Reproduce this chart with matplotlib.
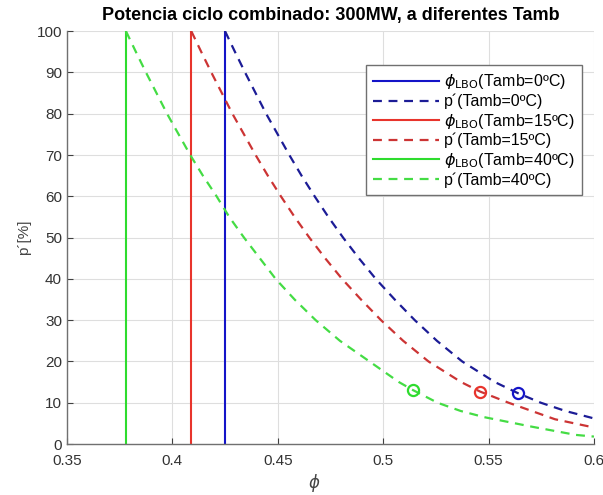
import matplotlib
matplotlib.use('Agg')
import matplotlib.pyplot as plt

plt.rcParams['font.family'] = ['Liberation Sans', 'DejaVu Sans']
plt.rcParams['mathtext.fontset'] = 'dejavusans'

# phi_LBO for each ambient temperature
phi_lbo = [0.425, 0.409, 0.378]
temps = ['0', '15', '40']

# p' curves
phi_0 = [0.425, 0.4297, 0.4345, 0.4395, 0.4445, 0.450, 0.4555, 0.4613, 0.4675, 0.474, 0.481,
         0.4885, 0.4965, 0.5055, 0.515, 0.5255, 0.5375, 0.553, 0.564, 0.5748, 0.5865, 0.600]
p_0 = [100, 95, 90, 85, 80, 75, 70, 65, 60, 55, 50,
       45, 40, 35, 30, 25, 20, 15, 12.3, 10, 8, 6.2]

phi_15 = [0.409, 0.4137, 0.4185, 0.4235, 0.4285, 0.434, 0.4395, 0.4453, 0.4515, 0.458, 0.465,
          0.4725, 0.4805, 0.4895, 0.499, 0.5095, 0.5215, 0.537, 0.546, 0.5595, 0.5705, 0.5815, 0.600]
p_15 = [100, 95, 90, 85, 80, 75, 70, 65, 60, 55, 50,
        45, 40, 35, 30, 25, 20, 15, 12.7, 10, 8, 6, 4.0]

phi_40 = [0.378, 0.3827, 0.3875, 0.3925, 0.3975, 0.403, 0.4085, 0.4145, 0.421, 0.427, 0.434,
          0.4415, 0.449, 0.458, 0.468, 0.4795, 0.4935, 0.5075, 0.514, 0.5258, 0.5368, 0.548, 0.5705, 0.5915, 0.600]
p_40 = [100, 95, 90, 85, 80, 75, 70, 65, 60, 55, 50,
        45, 40, 35, 30, 25, 20, 15, 13.1, 10, 8, 6.5, 4.2, 2.2, 1.8]

# operating points (circles)
pt_phi = [0.564, 0.546, 0.514]
pt_p = [12.3, 12.7, 13.1]

col_line = ['#1414c8', '#e8342c', '#2edc2e']
col_dash = ['#1c1c96', '#cc3434', '#44dc44']

fig = plt.figure(figsize=(6.03, 4.95), dpi=100)
ax = fig.add_axes([0.111, 0.103, 0.874, 0.834])

curves = [(phi_0, p_0), (phi_15, p_15), (phi_40, p_40)]
for i in range(3):
    ax.plot([phi_lbo[i], phi_lbo[i]], [0, 100], color=col_line[i], lw=1.5,
            label=r'$\phi_{\mathrm{LBO}}$(Tamb=' + temps[i] + 'ºC)')
    ax.plot(curves[i][0], curves[i][1], color=col_dash[i], lw=1.6, dashes=(4, 3),
            label='p´(Tamb=' + temps[i] + 'ºC)')
    ax.plot(pt_phi[i], pt_p[i], 'o', mfc='none', mec=col_line[i], mew=1.6, ms=8)

ax.set_xlim(0.35, 0.6)
ax.set_ylim(0, 100)
ax.set_xticks([0.35, 0.4, 0.45, 0.5, 0.55, 0.6])
ax.set_xticklabels(['0.35', '0.4', '0.45', '0.5', '0.55', '0.6'])
ax.set_yticks(range(0, 101, 10))
ax.grid(True, color='#dedede', lw=0.8)
ax.set_axisbelow(True)
for s in ['top', 'right']:
    ax.spines[s].set_visible(False)
for s in ['left', 'bottom']:
    ax.spines[s].set_color('#707070')
    ax.spines[s].set_linewidth(1.0)
ax.tick_params(direction='in', length=4, color='#404040', labelsize=11, labelcolor='#333333')
ax.tick_params(axis='x', pad=7)

ax.set_title('Potencia ciclo combinado: 300MW, a diferentes Tamb', fontsize=13,
             fontweight='bold', pad=8)
ax.set_xlabel(r'$\phi$', fontsize=12, color='#444444')
ax.xaxis.set_label_coords(0.47, -0.068)
ax.set_ylabel('p´[%]', fontsize=11, color='#444444', labelpad=4)

leg = ax.legend(loc='upper right', bbox_to_anchor=(0.977, 0.918), borderaxespad=0,
                fontsize=11.5, handlelength=4.1, fancybox=False, framealpha=1,
                edgecolor='#707070', borderpad=0.45, labelspacing=0.15, handletextpad=0.3)
leg.get_frame().set_linewidth(1.0)

fig.savefig('out.png', dpi=100)
